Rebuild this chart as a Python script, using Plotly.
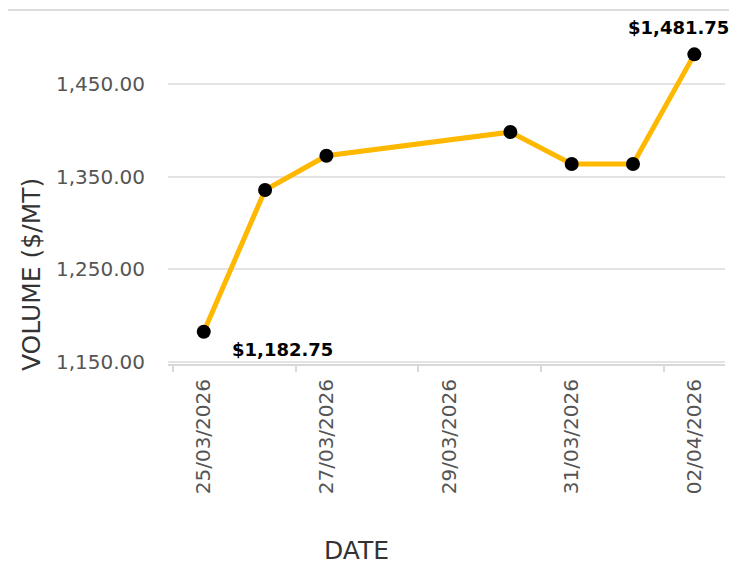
import plotly.graph_objects as go

dates = ["2026-03-25", "2026-03-26", "2026-03-27", "2026-03-30", "2026-03-31", "2026-04-01", "2026-04-02"]
prices = [1182.75, 1335.5, 1372.5, 1398.0, 1363.5, 1363.5, 1481.75]
y_ticks = [1150, 1250, 1350, 1450]
x_title = "DATE"
y_title = "VOLUME ($/MT)"

DAY = 86400000

fig = go.Figure()
fig.add_trace(go.Scatter(
    x=dates, y=prices, mode="lines+markers",
    line=dict(color="#FFB800", width=5),
    marker=dict(color="#000000", size=14),
    hoverinfo="skip", showlegend=False,
))

fig.add_annotation(x=dates[0], y=prices[0], text="<b>$1,182.75</b>", showarrow=False,
                   xanchor="center", yanchor="middle", xshift=79, yshift=-18,
                   font=dict(family="DejaVu Sans", size=18, color="#000"))
fig.add_annotation(x=dates[-1], y=prices[-1], text="<b>$1,481.75</b>", showarrow=False,
                   xanchor="center", yanchor="middle", xshift=-16, yshift=27,
                   font=dict(family="DejaVu Sans", size=18, color="#000"))

fig.add_annotation(xref="paper", yref="paper", x=-0.244, y=0.2665, text=y_title, textangle=-90,
                   showarrow=False, xanchor="center", yanchor="middle",
                   font=dict(family="DejaVu Sans", size=25, color="#333"))
fig.add_annotation(xref="paper", yref="paper", x=0.339, y=-0.557, text=x_title,
                   showarrow=False, xanchor="center", yanchor="middle",
                   font=dict(family="DejaVu Sans", size=25, color="#333"))

fig.add_shape(type="line", xref="paper", yref="paper", x0=-0.4, x1=1.1, y0=1.06, y1=1.06,
              line=dict(color="#dcdcdc", width=2))

fig.update_layout(
    width=729, height=558,
    margin=dict(l=160, r=12, t=22, b=202),
    paper_bgcolor="white", plot_bgcolor="white",
    font=dict(family="DejaVu Sans", color="#555"),
    xaxis=dict(
        type="date",
        range=["2026-03-24 10:00", "2026-04-02 12:00"],
        tick0="2026-03-25", dtick=2 * DAY, tickformat="%d/%m/%Y",
        tickangle=-90, tickfont=dict(size=20, color="#555"),
        showgrid=False, showline=True, linecolor="#d9d9d9", linewidth=2,
        ticks="", ticklabelstandoff=5,
        minor=dict(ticks="outside", tick0="2026-03-24 12:00", dtick=2 * DAY,
                   ticklen=6, tickcolor="#d9d9d9", tickwidth=2, showgrid=False),
        zeroline=False,
    ),
    yaxis=dict(
        range=[1148, 1508],
        tickvals=y_ticks, tickformat=",.2f",
        tickfont=dict(size=20, color="#555"),
        showgrid=True, gridcolor="#e3e3e3", gridwidth=2,
        zeroline=False, showline=False, ticks="", ticklabelstandoff=22,
    ),
)

fig.write_html("out.html")
